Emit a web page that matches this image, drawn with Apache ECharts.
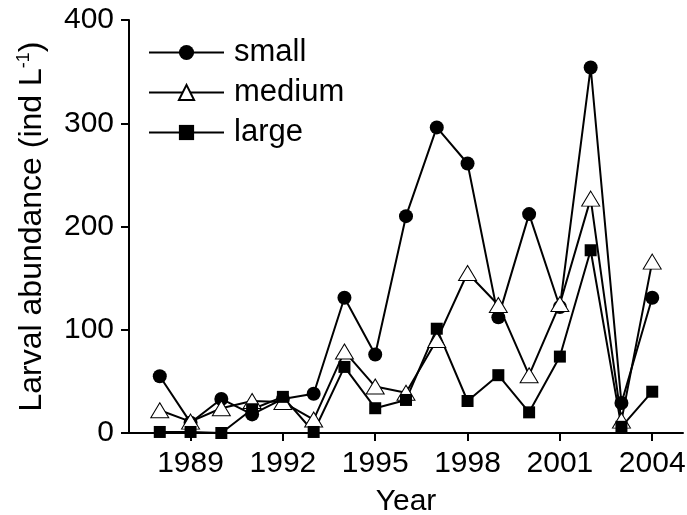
<!DOCTYPE html>
<html>
<head>
<meta charset="utf-8">
<script src="https://cdn.jsdelivr.net/npm/echarts@6/dist/echarts.min.js"></script>
<style>html,body{margin:0;padding:0;background:#fff;}#c{width:687px;height:515px;}</style>
</head>
<body>
<div id="c"></div>
<script>
const years = [1988,1989,1990,1991,1992,1993,1994,1995,1996,1997,1998,1999,2000,2001,2002,2003,2004];
const small  = [55, 10, 33, 18, 33, 38, 131, 76, 210, 296, 261, 112, 212, 122, 354, 29, 131];
const medium = [22, 11, 24, 31, 30, 13, 79, 45, 39, 90, 155, 124, 56, 125, 227, 12, 166];
const large  = [1, 1, 0, 23, 35, 1, 64, 24, 32, 101, 31, 56, 20, 74, 177, 6, 40];
const xTicks = [1989,1992,1995,1998,2001,2004];
const yTicks = [0,100,200,300,400];

const font = 'Liberation Sans, Arial, Helvetica, sans-serif';
const pair = a => years.map((y,i)=>[y,a[i]]);
const chart = echarts.init(document.getElementById('c'), null, {renderer:'canvas'});
chart.setOption({
  animation:false,
  backgroundColor:'#fff',
  grid:{left:129,right:4,top:20,bottom:82,containLabel:false,outerBoundsMode:'none'},
  legend:{
    orient:'vertical', left:148, top:37, padding:0, itemWidth:75, itemHeight:19, itemGap:9,
    textStyle:{fontFamily:font,fontSize:31,color:'#000',padding:[0,0,0,5]},
    data:['small','medium','large']
  },
  xAxis:{
    type:'value', min:1987, max:2005,
    name:'Year', nameLocation:'middle', nameGap:54,
    nameTextStyle:{fontFamily:font,fontSize:30,color:'#000'},
    axisLine:{show:true,lineStyle:{color:'#000',width:2}},
    axisTick:{show:true,inside:false,length:8,lineStyle:{color:'#000',width:2},customValues:xTicks},
    axisLabel:{fontFamily:font,fontSize:30,color:'#000',margin:16,customValues:xTicks,formatter:v=>String(v)},
    splitLine:{show:false}
  },
  yAxis:{
    type:'value', min:0, max:400, interval:100,
    name:'Larval abundance (ind L{sup|-1})', nameLocation:'middle', nameGap:80,
    nameTextStyle:{fontFamily:font,fontSize:32,color:'#000',
      rich:{sup:{fontFamily:font,fontSize:18,color:'#000',verticalAlign:'top',padding:[0,0,16,0]}}},
    axisLine:{show:true,lineStyle:{color:'#000',width:2}},
    axisTick:{show:true,inside:false,length:8,lineStyle:{color:'#000',width:2}},
    axisLabel:{fontFamily:font,fontSize:30,color:'#000',margin:15,formatter:v=>String(v)},
    splitLine:{show:false}
  },
  series:[
    {name:'small',type:'line',data:pair(small),symbol:'circle',symbolSize:14,
     lineStyle:{color:'#000',width:2},itemStyle:{color:'#000',borderColor:'#000',borderWidth:0}},
    {name:'medium',type:'line',data:pair(medium),symbol:'triangle',symbolSize:[18,15],
     lineStyle:{color:'#000',width:2},itemStyle:{color:'#fff',borderColor:'#000',borderWidth:1}},
    {name:'large',type:'line',data:pair(large),symbol:'rect',symbolSize:12,
     lineStyle:{color:'#000',width:2},itemStyle:{color:'#000',borderColor:'#000',borderWidth:0}}
  ]
});
</script>
</body>
</html>
